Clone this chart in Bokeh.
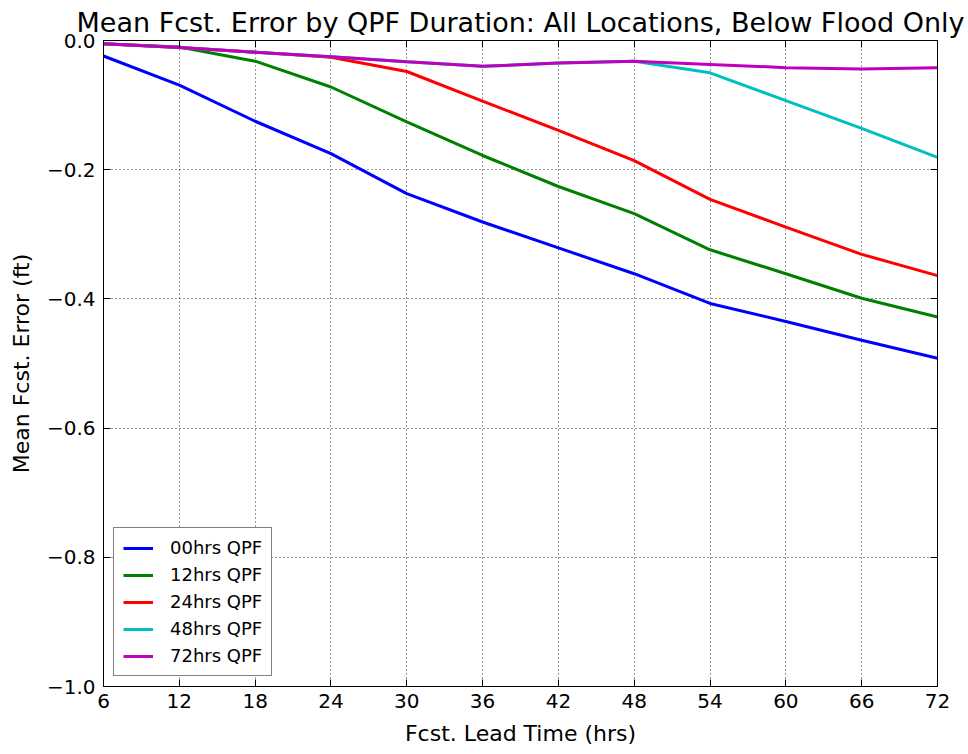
from bokeh.plotting import figure
from bokeh.models import LinearAxis, FixedTicker, Legend, LegendItem, Range1d
from bokeh.embed import file_html
from bokeh.resources import INLINE

lead_hours = [6, 12, 18, 24, 30, 36, 42, 48, 54, 60, 66, 72]
qpf_00 = [-0.024, -0.069, -0.125, -0.175, -0.237, -0.281, -0.321, -0.361, -0.407, -0.435, -0.464, -0.492]
qpf_12 = [-0.005, -0.010, -0.032, -0.072, -0.126, -0.178, -0.226, -0.268, -0.324, -0.361, -0.399, -0.428]
qpf_24 = [-0.005, -0.011, -0.018, -0.026, -0.048, -0.094, -0.139, -0.186, -0.246, -0.289, -0.331, -0.364]
qpf_48 = [-0.005, -0.011, -0.018, -0.025, -0.033, -0.040, -0.035, -0.032, -0.050, -0.093, -0.136, -0.181]
qpf_72 = [-0.005, -0.011, -0.018, -0.025, -0.033, -0.040, -0.035, -0.032, -0.037, -0.042, -0.044, -0.042]

series_names = ["00hrs QPF", "12hrs QPF", "24hrs QPF", "48hrs QPF", "72hrs QPF"]
series_values = [qpf_00, qpf_12, qpf_24, qpf_48, qpf_72]
series_colors = ["#0000ff", "#008000", "#ff0000", "#00bfbf", "#bf00bf"]

x_ticks = [6, 12, 18, 24, 30, 36, 42, 48, 54, 60, 66, 72]
y_ticks = [-1.0, -0.8, -0.6, -0.4, -0.2, 0.0]
y_tick_labels = ["\u22121.0", "\u22120.8", "\u22120.6", "\u22120.4", "\u22120.2", "0.0"]

FONT = "DejaVu Sans"

p = figure(width=968, height=754, output_backend="svg", toolbar_location=None,
           x_range=Range1d(6, 72), y_range=Range1d(-1.0, 0.0),
           x_axis_label="Fcst. Lead Time (hrs)", y_axis_label="Mean Fcst. Error (ft)",
           min_border_left=103, min_border_right=31, min_border_top=40, min_border_bottom=68)

p.title.text = "Mean Fcst. Error by QPF Duration: All Locations, Below Flood Only"
p.title.text_font = FONT
p.title.text_font_size = "27px"
p.title.text_font_style = "normal"
p.title.text_color = "black"
p.title.align = "center"
p.title.standoff = 6
p.title.offset = 0

p.outline_line_color = "black"
p.outline_line_width = 1
p.background_fill_color = "white"
p.border_fill_color = "white"

for ax in p.xaxis:
    ax.ticker = FixedTicker(ticks=x_ticks)
for ax in p.yaxis:
    ax.ticker = FixedTicker(ticks=y_ticks)
    ax.major_label_overrides = {t: l for t, l in zip(y_ticks, y_tick_labels)}

for ax in list(p.xaxis) + list(p.yaxis):
    ax.major_tick_in = 7
    ax.major_tick_out = 0
    ax.minor_tick_line_color = None
    ax.major_tick_line_color = "black"
    ax.axis_line_color = "black"
    ax.major_label_text_font = FONT
    ax.major_label_text_font_size = "20px"
    ax.major_label_text_color = "black"
    ax.axis_label_text_font = FONT
    ax.axis_label_text_font_size = "22px"
    ax.axis_label_text_font_style = "normal"
    ax.axis_label_text_color = "black"

p.xaxis.major_label_standoff = 7
p.xaxis.axis_label_standoff = 10
p.yaxis.major_label_standoff = 8
p.yaxis.axis_label_standoff = 10

top_axis = LinearAxis(ticker=FixedTicker(ticks=x_ticks), major_tick_in=7, major_tick_out=0,
                      major_label_overrides={t: "" for t in x_ticks}, major_label_standoff=0,
                      minor_tick_line_color=None, axis_line_color="black")
right_axis = LinearAxis(ticker=FixedTicker(ticks=y_ticks), major_tick_in=7, major_tick_out=0,
                        major_label_overrides={t: "" for t in y_ticks}, major_label_standoff=0,
                        minor_tick_line_color=None, axis_line_color="black")
p.add_layout(top_axis, "above")
p.add_layout(right_axis, "right")

for g in [p.xgrid[0], p.ygrid[0]]:
    g.grid_line_color = "black"
    g.grid_line_dash = "1 3"
    g.grid_line_width = 1
    g.grid_line_alpha = 0.8
p.xgrid[0].ticker = FixedTicker(ticks=x_ticks)
p.ygrid[0].ticker = FixedTicker(ticks=y_ticks)

items = []
for name, vals, col in zip(series_names, series_values, series_colors):
    r = p.line(lead_hours, vals, line_color=col, line_width=3)
    items.append(LegendItem(label=name, renderers=[r]))

legend = Legend(items=items, location="bottom_left")
legend.label_text_font = FONT
legend.label_text_font_size = "18px"
legend.label_text_color = "black"
legend.border_line_color = "black"
legend.border_line_width = 1
legend.glyph_width = 30
legend.glyph_height = 20
legend.label_standoff = 17
legend.label_height = 20
legend.spacing = 6
legend.padding = 9
legend.margin = 10
legend.background_fill_alpha = 1.0
p.add_layout(legend, "center")

open("out.html", "w").write(file_html(p, INLINE))
